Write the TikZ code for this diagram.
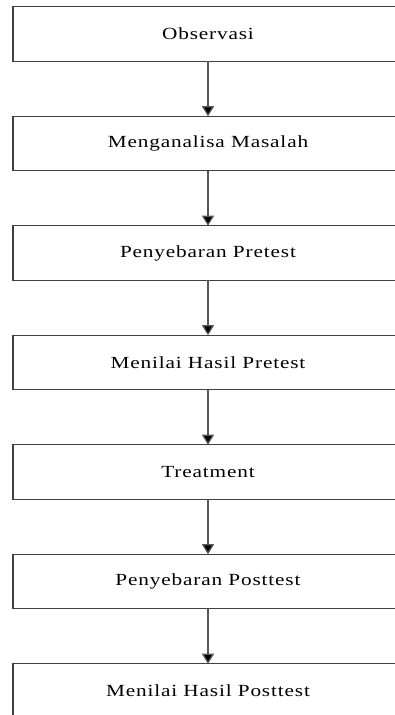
\documentclass[tikz,border=0pt]{standalone}
\usepackage{fontspec}
\setmainfont{Liberation Serif}[FakeStretch=1.25,LetterSpace=5]
\usetikzlibrary{positioning,arrows.meta}

\begin{document}
\begin{tikzpicture}[->,>={Triangle[length=10pt,width=12pt]},x=1pt,y=1pt,node distance=55pt]
    \tikzstyle{stage}=[rectangle,draw=black!75,line width=1.2pt,minimum width=390pt,minimum height=54.5pt,inner sep=0pt,outer sep=0pt,font=\fontsize{17}{19}\selectfont]
    \useasboundingbox (0,0) rectangle (395,715);
    \clip (0,0) rectangle (395,715);

    % Stages
    \node[stage] (obs) at (208,681) {Observasi};
    \node[stage,below=of obs] (analisa) {Menganalisa Masalah};
    \node[stage,below=of analisa] (pre) {Penyebaran Pretest};
    \node[stage,below=of pre] (nilaipre) {Menilai Hasil Pretest};
    \node[stage,below=of nilaipre] (treat) {Treatment};
    \node[stage,below=of treat] (post) {Penyebaran Posttest};
    \node[stage,below=of post] (nilaipost) {Menilai Hasil Posttest};

    % Arrows
    \path[draw=black!65,line width=1.2pt]
        (obs) edge (analisa)
        (analisa) edge (pre)
        (pre) edge (nilaipre)
        (nilaipre) edge (treat)
        (treat) edge (post)
        (post) edge (nilaipost)
        ;
\end{tikzpicture}
\end{document}
